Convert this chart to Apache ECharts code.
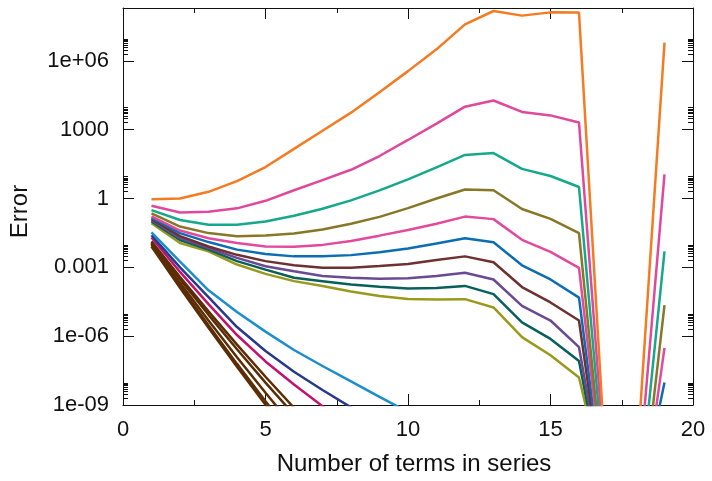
<!DOCTYPE html>
<html>
<head>
<meta charset="utf-8">
<script src="https://cdn.jsdelivr.net/npm/echarts@6/dist/echarts.min.js"></script>
<style>
  html, body { margin: 0; padding: 0; background: #fff; }
  #chart { width: 712px; height: 481px; }
</style>
</head>
<body>
<div id="chart"></div>
<script>
// number of terms, shared by every curve
const terms = [1, 2, 3, 4, 5, 6, 7, 8, 9, 10, 11, 12, 13, 14, 15, 16, 17, 18, 19];

// upper family (blows up, then drops near n = 17, 18)
const orange = [0.93, 1.0, 1.95, 5.75, 23.4, 145, 891, 5.5e3, 4.27e4, 3.55e5, 3.16e6, 3.89e7, 1.48e8, 9.3e7, 1.29e8, 1.26e8, 1e-13, 1e-12, 6.2e6];
const pink = [0.48, 0.245, 0.263, 0.372, 0.79, 2.29, 6.3, 17.8, 70.8, 355, 1.82e3, 1.0e4, 1.86e4, 5.9e3, 4.17e3, 2.04e3, 7.9e-14, 3.2e-14, 11.2];
const teal = [0.31, 0.115, 0.071, 0.071, 0.1, 0.178, 0.355, 0.83, 2.24, 6.76, 22.9, 79.4, 95.5, 19.5, 9.55, 3.16, 3.4e-14, 3.3e-15, 5.0e-3];
const olive = [0.224, 0.06, 0.031, 0.0224, 0.0245, 0.03, 0.0447, 0.0794, 0.158, 0.38, 1.0, 2.45, 2.29, 0.347, 0.129, 0.031, 1.0e-14, 3.2e-16, 2.24e-5];
const pink2 = [0.166, 0.04, 0.0186, 0.0115, 8.1e-3, 7.9e-3, 9.5e-3, 0.0141, 0.024, 0.0427, 0.0794, 0.162, 0.126, 0.0158, 4.7e-3, 9.5e-4, 1.3e-14, 4e-16, 3.1e-7];
const blue = [0.141, 0.031, 0.0126, 5.9e-3, 3.8e-3, 3.0e-3, 3.0e-3, 3.4e-3, 4.5e-3, 6.6e-3, 0.011, 0.0186, 0.0123, 1.23e-3, 2.95e-4, 4.8e-5, 8.5e-15, 1e-14, 9.5e-9];
const darkRed = [0.126, 0.0229, 8.1e-3, 3.5e-3, 1.86e-3, 1.23e-3, 9.5e-4, 9.5e-4, 1.15e-3, 1.41e-3, 2.1e-3, 3.0e-3, 1.66e-3, 1.38e-4, 2.95e-5, 4.8e-6, 8.3e-15, 1e-15, 1e-10];
const purple = [0.112, 0.0186, 6.9e-3, 2.57e-3, 1.12e-3, 6.8e-4, 4.2e-4, 3.5e-4, 3.2e-4, 3.3e-4, 4.2e-4, 5.8e-4, 2.95e-4, 2.1e-5, 4.8e-6, 3.3e-7, 3.3e-14, 1e-15, 1e-11];
const darkTeal = [0.1, 0.0155, 5.9e-3, 1.86e-3, 7.9e-4, 3.5e-4, 2.5e-4, 1.78e-4, 1.41e-4, 1.2e-4, 1.26e-4, 1.55e-4, 6.8e-5, 4.0e-6, 7.6e-7, 8.3e-8, 3.3e-14, 1e-15, 1e-12];
const yellow = [0.083, 0.0115, 5.0e-3, 1.32e-3, 5.2e-4, 2.5e-4, 1.55e-4, 8.9e-5, 5.6e-5, 4.2e-5, 4.0e-5, 4.1e-5, 1.78e-5, 9.1e-7, 1.48e-7, 1.58e-8, 1e-13, 1e-15, 1e-13];

// lower family (converges straight down past 1e-9)
const lightBlue = [0.033, 1.78e-3, 1.0e-4, 1.12e-5, 1.58e-6, 2.5e-7, 5.0e-8, 1.07e-8, 2.24e-9, 5.0e-10, 1.0e-10];
const navy = [0.025, 1.0e-3, 5.0e-5, 2.5e-6, 2.24e-7, 2.8e-8, 4.5e-9, 7.9e-10, 1.58e-10];
const magenta = [0.02, 6.3e-4, 2.5e-5, 1.12e-6, 7.9e-8, 7.9e-9, 8.9e-10, 1.26e-10];
const brown1 = [0.0135, 3.8e-4, 1.2e-5, 4.3e-7, 1.7e-8, 7.6e-10, 3.8e-11];
const brown2 = [0.012, 3.0e-4, 8.5e-6, 2.7e-7, 9.5e-9, 3.8e-10, 1.6e-11];
const brown3 = [0.0107, 2.1e-4, 4.8e-6, 1.2e-7, 3.4e-9, 1.07e-10];
const brown4 = [9.5e-3, 1.58e-4, 3.0e-6, 6.2e-8, 1.45e-9, 3.8e-11];
const brown5 = [8.1e-3, 1.29e-4, 2.3e-6, 4.6e-8, 1.02e-9, 2.5e-11];

const curves = [
  { data: brown5, color: "#5c2d05" },
  { data: brown4, color: "#5c2d05" },
  { data: brown3, color: "#5c2d05" },
  { data: brown2, color: "#5c2d05" },
  { data: brown1, color: "#5c2d05" },
  { data: magenta, color: "#c2116e" },
  { data: navy, color: "#273a8a" },
  { data: lightBlue, color: "#1b8ecb" },
  { data: yellow, color: "#999a1c" },
  { data: darkTeal, color: "#07615a" },
  { data: purple, color: "#694a93" },
  { data: darkRed, color: "#6d3131" },
  { data: blue, color: "#0b6db2" },
  { data: pink2, color: "#e24a9d" },
  { data: olive, color: "#877727" },
  { data: teal, color: "#15a88b" },
  { data: pink, color: "#e0489c" },
  { data: orange, color: "#f47b22" },
];

// axis range and ticks
const yMin = 1e-9;
const yMax = 2e8;
const majorExp = [-9, -6, -3, 0, 3, 6];
const minorFactors = [2, 3, 4, 5, 6, 7, 8, 9];

const chart = echarts.init(document.getElementById("chart"));

const minorVals = [];
majorExp.forEach((e) => {
  minorFactors.forEach((f) => minorVals.push(f * Math.pow(10, e)));
});

const fmtPow = (v) => {
  const lg = Math.log10(v);
  const k = Math.round(lg);
  if (Math.abs(lg - k) > 1e-6 || k % 3 !== 0) return "";
  if (k >= -4 && k <= 5) return String(Math.pow(10, k).toPrecision(1) * 1);
  return "1e" + (k < 0 ? "-" : "+") + String(Math.abs(k)).padStart(2, "0");
};

const font = "'Liberation Sans', Arial, sans-serif";
const ink = "#111";
const lineStyle = { color: ink, width: 1 };

const xBase = (pos) => ({
  type: "value",
  position: pos,
  min: 0,
  max: 20,
  interval: 5,
  axisLine: { show: true, onZero: false, lineStyle },
  axisTick: { show: true, inside: true, length: 11, lineStyle },
  minorTick: { show: true, splitNumber: 2, length: 5, lineStyle },
  splitLine: { show: false },
  axisLabel: { show: false },
});

const yBase = (pos, minor) => ({
  type: "log",
  logBase: 10,
  position: pos,
  min: yMin,
  max: yMax,
  interval: 3,
  axisLine: { show: !minor, onZero: false, lineStyle },
  axisTick: minor
    ? { show: true, inside: true, length: 5, lineStyle, customValues: minorVals }
    : { show: true, inside: true, length: 11, lineStyle },
  splitLine: { show: false },
  minorTick: { show: false },
  axisLabel: { show: false },
});

const xMain = xBase("bottom");
xMain.axisLabel = { show: true, fontSize: 22, fontFamily: font, color: ink, margin: 14 };
xMain.name = "Number of terms in series";
xMain.nameLocation = "middle";
xMain.nameGap = 47;
xMain.nameTextStyle = { fontSize: 24, fontFamily: font, color: ink, padding: [0, 0, 0, 12] };

const yMain = yBase("left", false);
yMain.axisLabel = {
  show: true,
  fontSize: 22,
  fontFamily: font,
  color: ink,
  margin: 14,
  formatter: fmtPow,
};
yMain.name = "Error";
yMain.nameLocation = "middle";
yMain.nameRotate = 90;
yMain.nameGap = 91;
yMain.nameTextStyle = { fontSize: 24, fontFamily: font, color: ink, padding: [0, 10, 0, 0] };

const option = {
  animation: false,
  backgroundColor: "#fff",
  grid: { left: 121, right: 19, top: 8, bottom: 73, containLabel: false },
  xAxis: [xMain, xBase("top")],
  yAxis: [yMain, yBase("left", true), yBase("right", false), yBase("right", true)],
  series: curves.map((c) => ({
    type: "line",
    xAxisIndex: 0,
    yAxisIndex: 0,
    data: c.data.map((v, i) => [terms[i], v]),
    showSymbol: false,
    symbol: "none",
    clip: true,
    lineStyle: { color: c.color, width: 2.5 },
    itemStyle: { color: c.color },
  })),
};

chart.setOption(option);
</script>
</body>
</html>
